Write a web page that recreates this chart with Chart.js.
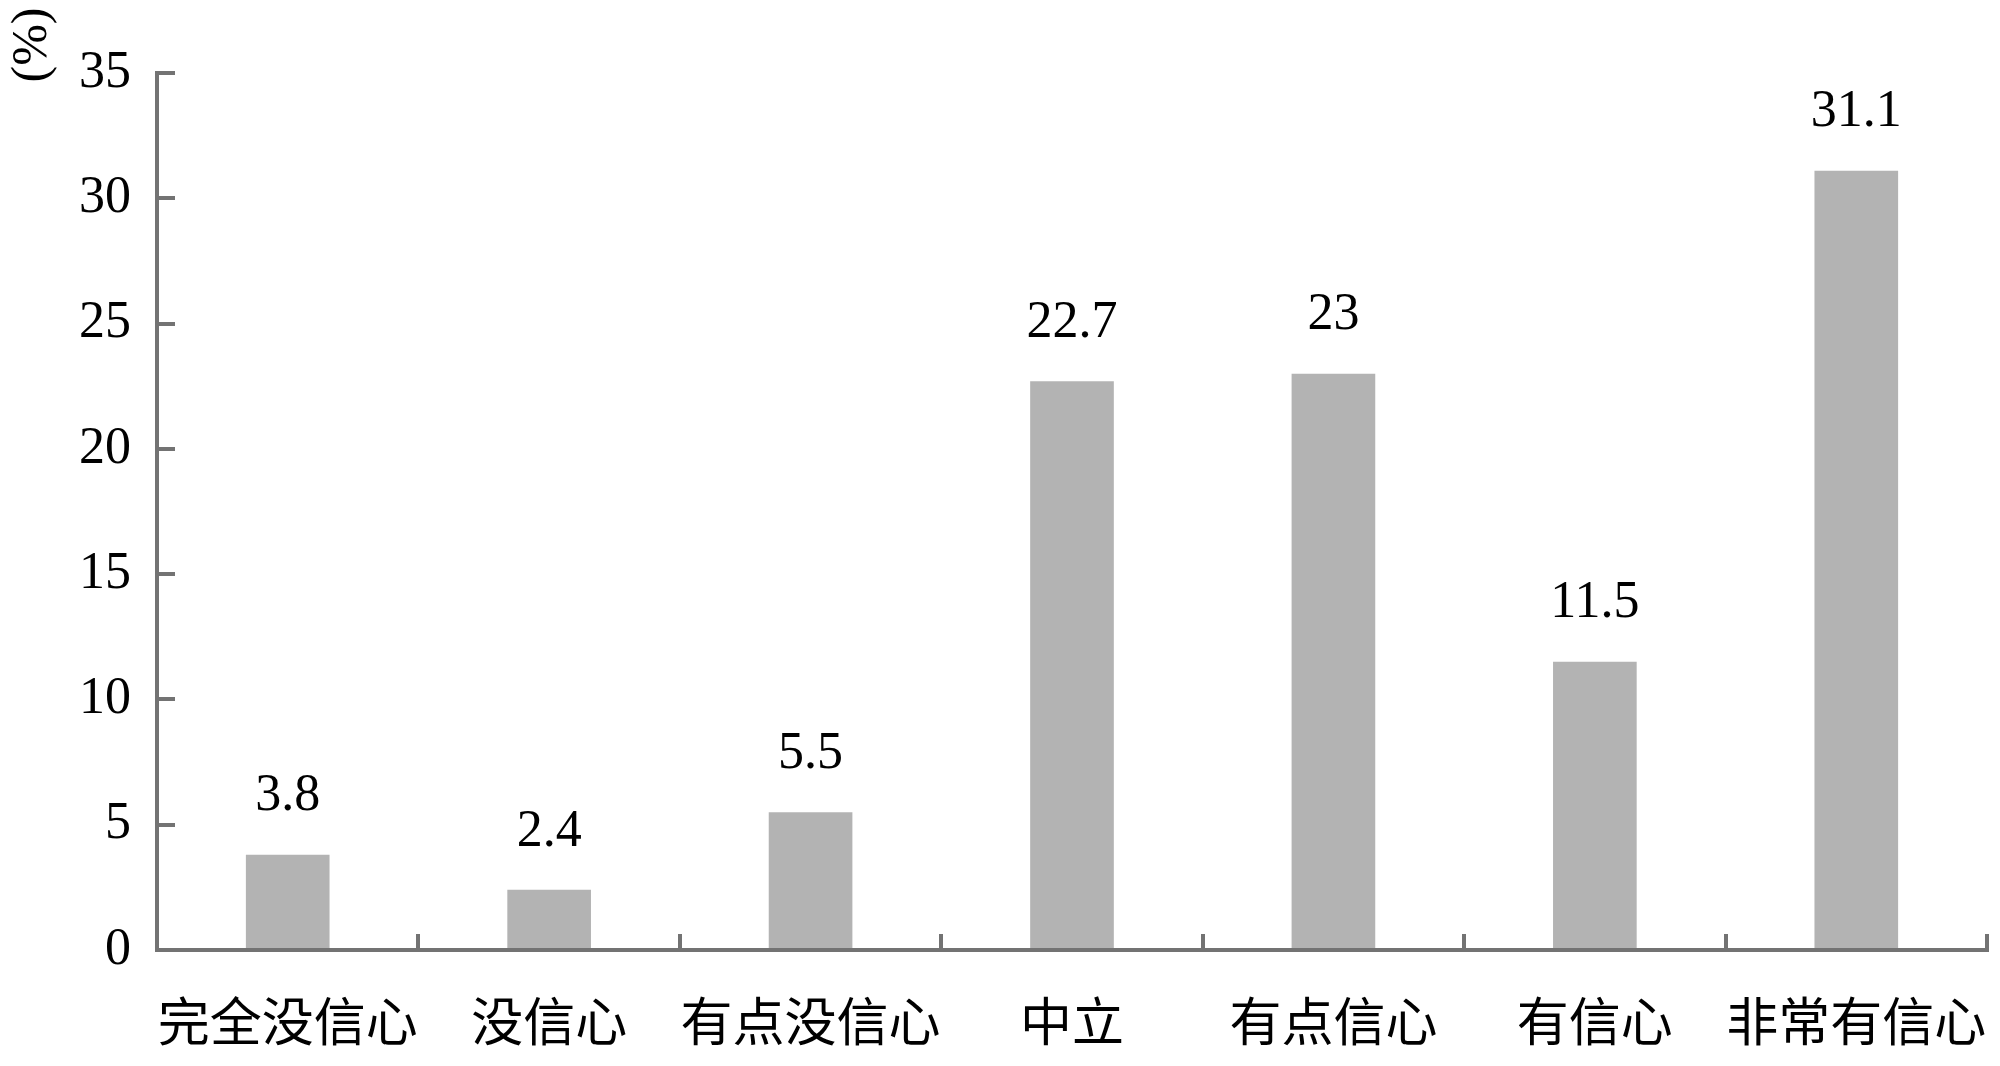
<!DOCTYPE html>
<html>
<head>
<meta charset="utf-8">
<script src="https://cdn.jsdelivr.net/npm/chart.js@4"></script>
<style>
html,body{margin:0;padding:0;background:#fff;}
#wrap{width:2000px;height:1066px;position:relative;}
</style>
</head>
<body>
<div id="wrap"><canvas id="c"></canvas></div>
<script>
const categories = ['完全没信心','没信心','有点没信心','中立','有点信心','有信心','非常有信心'];
const values = [3.8, 2.4, 5.5, 22.7, 23, 11.5, 31.1];
const valueLabels = ['3.8','2.4','5.5','22.7','23','11.5','31.1'];
const yTicks = [0,5,10,15,20,25,30,35];
const yUnit = '(%)';

const axisColor = '#737373';
const serif = '"Liberation Serif", "DejaVu Serif", serif';

const valueLabelPlugin = {
  id: 'valueLabels',
  afterDatasetsDraw(chart) {
    const ctx = chart.ctx;
    const meta = chart.getDatasetMeta(0);
    ctx.save();
    ctx.fillStyle = '#000';
    ctx.font = '52px ' + serif;
    ctx.textAlign = 'center';
    ctx.textBaseline = 'middle';
    meta.data.forEach((bar, i) => {
      ctx.fillText(valueLabels[i], bar.x, bar.y - 58);
    });
    ctx.restore();
  }
};

const unitPlugin = {
  id: 'unitTitle',
  afterDraw(chart) {
    const ctx = chart.ctx;
    ctx.save();
    ctx.fillStyle = '#000';
    ctx.font = '50px ' + serif;
    ctx.textAlign = 'center';
    ctx.textBaseline = 'middle';
    ctx.translate(33, 45);
    ctx.rotate(-Math.PI / 2);
    ctx.fillText(yUnit, 0, 0);
    ctx.restore();
  }
};

new Chart(document.getElementById('c'), {
  type: 'bar',
  data: {
    labels: categories,
    datasets: [{
      data: values,
      backgroundColor: '#b3b3b3',
      borderWidth: 0,
      categoryPercentage: 1.0,
      barPercentage: 0.32
    }]
  },
  options: {
    responsive: true,
    maintainAspectRatio: false,
    animation: false,
    layout: { padding: { top: 73, right: 13, left: 0, bottom: 0 } },
    plugins: { legend: { display: false }, tooltip: { enabled: false } },
    scales: {
      x: {
        offset: true,
        grid: {
          offset: true,
          drawOnChartArea: false,
          drawTicks: true,
          tickLength: -16,
          color: axisColor,
          lineWidth: 4
        },
        border: { color: axisColor, width: 4 },
        ticks: {
          color: '#000',
          font: { family: '"Noto Sans CJK SC", sans-serif', size: 52 },
          padding: 56,
          maxRotation: 0,
          minRotation: 0,
          autoSkip: false
        },
        afterFit(axis) {
          axis.height = 116;
          axis.paddingLeft = 0;
          axis.paddingRight = 0;
        }
      },
      y: {
        min: 0,
        max: 35,
        afterBuildTicks(axis) { axis.ticks = yTicks.map(v => ({ value: v })); },
        grid: {
          drawOnChartArea: false,
          drawTicks: true,
          tickLength: -18,
          color: axisColor,
          lineWidth: 4
        },
        border: { color: axisColor, width: 4 },
        ticks: {
          color: '#000',
          font: { family: serif, size: 52 },
          padding: 44
        },
        afterFit(axis) {
          axis.width = 157;
          axis.paddingTop = 0;
          axis.paddingBottom = 0;
        }
      }
    }
  },
  plugins: [valueLabelPlugin, unitPlugin]
});
</script>
</body>
</html>
